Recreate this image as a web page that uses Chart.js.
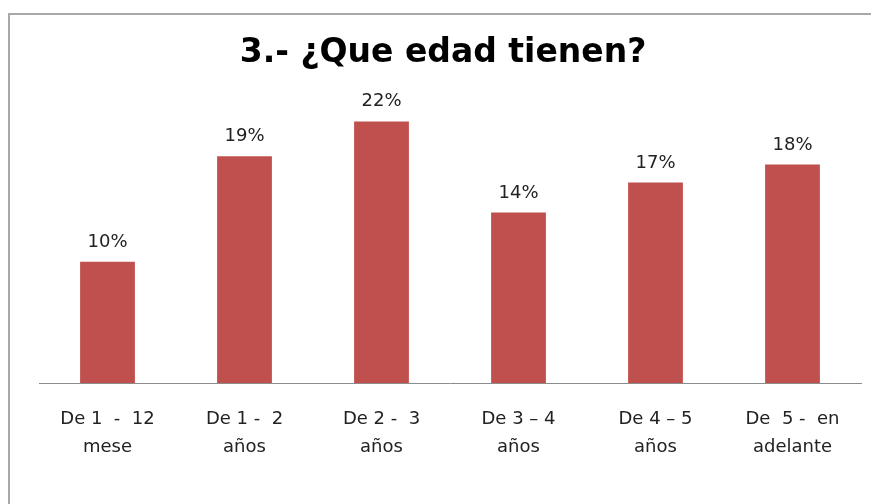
<!DOCTYPE html>
<html>
<head>
<meta charset="utf-8">
<script src="https://cdn.jsdelivr.net/npm/chart.js"></script>
<style>
  body { margin: 0; background: #fff; overflow: hidden; }
  .frame { position: absolute; left: 8px; top: 13px; width: 1000px; height: 1000px;
           border-left: 2px solid #a8a8a8; border-top: 2px solid #a8a8a8; }
  .wrap { position: absolute; left: 0; top: 0; width: 871px; height: 504px; }
</style>
</head>
<body>
<div class="frame"></div>
<div class="wrap"><canvas id="edadChart" width="871" height="504"></canvas></div>
<script>
// age groups and share of answers (%)
const categories = [
  ['De 1  -  12', 'mese'],
  ['De 1 -  2', 'años'],
  ['De 2 -  3', 'años'],
  ['De 3 – 4', 'años'],
  ['De 4 – 5', 'años'],
  ['De  5 -  en', 'adelante']
];
const percentages = [10.1, 18.9, 21.8, 14.2, 16.7, 18.2];
const titleText = '3.- ¿Que edad tienen?';

// simple value labels above bars
const barLabels = {
  id: 'barLabels',
  afterDatasetsDraw(chart) {
    const ctx = chart.ctx;
    const meta = chart.getDatasetMeta(0);
    ctx.save();
    ctx.font = '18px "DejaVu Sans"';
    ctx.fillStyle = '#222';
    ctx.textAlign = 'center';
    ctx.textBaseline = 'alphabetic';
    meta.data.forEach((bar, i) => {
      ctx.fillText(Math.round(percentages[i]) + '%', bar.x, bar.y - 15);
    });
    ctx.restore();
  }
};

new Chart(document.getElementById('edadChart'), {
  type: 'bar',
  data: {
    labels: categories,
    datasets: [{
      data: percentages,
      backgroundColor: '#C0504D',
      barPercentage: 0.4,
      categoryPercentage: 1
    }]
  },
  options: {
    responsive: false,
    animation: false,
    layout: { padding: { left: 25, right: 10, top: 0, bottom: 0 } },
    plugins: {
      legend: { display: false },
      tooltip: { enabled: false },
      title: {
        display: true,
        text: titleText,
        color: '#000',
        font: { family: 'DejaVu Sans', size: 33, weight: 'bold', lineHeight: 1.2 },
        padding: { top: 34, bottom: 9.4 }
      }
    },
    scales: {
      y: {
        min: 0,
        max: 25,
        ticks: { display: false },
        grid: { display: false, drawTicks: false },
        border: { display: false },
        afterFit(s) { s.width = 14; }
      },
      x: {
        grid: { display: false, drawTicks: false },
        border: { display: true, color: '#8c8c8c', width: 1 },
        ticks: {
          color: '#222',
          padding: 22,
          maxRotation: 0,
          autoSkip: false,
          font: { family: 'DejaVu Sans', size: 18, lineHeight: 1.55 }
        },
        afterFit(s) { s.height = 121; }
      }
    }
  },
  plugins: [barLabels]
});
</script>
</body>
</html>
